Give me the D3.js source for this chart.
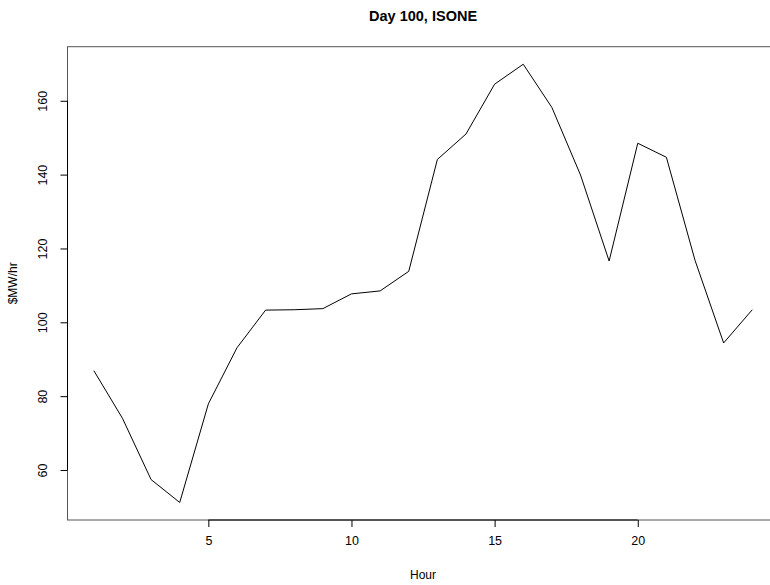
<!DOCTYPE html>
<html>
<head>
<meta charset="utf-8">
<script src="https://cdn.jsdelivr.net/npm/d3@7"></script>
<style>
  html, body { margin: 0; padding: 0; background: #fff; }
  svg { display: block; font-family: "Liberation Sans", Arial, Helvetica, sans-serif; }
</style>
</head>
<body>
<svg id="chart" width="770" height="585"></svg>
<script>
// Hourly price, ISONE, day 100
const hours = [1, 2, 3, 4, 5, 6, 7, 8, 9, 10, 11, 12, 13, 14, 15, 16, 17, 18, 19, 20, 21, 22, 23, 24];
const prices = [86.9, 74.0, 57.4, 51.2, 77.9, 93.1, 103.3, 103.4, 103.7, 107.7, 108.5, 113.8,
                144.1, 151.0, 164.5, 169.9, 158.2, 139.9, 116.6, 148.5, 144.7, 116.8, 94.4, 103.4];
const xTicks = [5, 10, 15, 20];
const yTicks = [60, 80, 100, 120, 140, 160];
const titleText = "Day 100, ISONE";
const xLabel = "Hour";
const yLabel = "$MW/hr";

const svg = d3.select("#chart");
const plotLeft = 67.5, plotRight = 778.6, plotTop = 46.7, plotBottom = 520;

// R-style 4% padding of the data range
function padded(ext) {
  const d = (ext[1] - ext[0]) * 0.04;
  return [ext[0] - d, ext[1] + d];
}
const x = d3.scaleLinear().domain(padded(d3.extent(hours))).range([plotLeft, plotRight]);
const y = d3.scaleLinear().domain(padded(d3.extent(prices))).range([plotBottom, plotTop]);

// plot frame
svg.append("rect")
  .attr("x", plotLeft).attr("y", plotTop)
  .attr("width", plotRight - plotLeft).attr("height", plotBottom - plotTop)
  .attr("fill", "none").attr("stroke", "#555").attr("stroke-width", 1);

// x axis
const xAxis = svg.append("g")
  .attr("transform", `translate(0,${plotBottom})`)
  .call(d3.axisBottom(x).tickValues(xTicks).tickFormat(d3.format("d")).tickSize(7).tickPadding(9).tickSizeOuter(0));
xAxis.select(".domain").remove();
xAxis.append("line")
  .attr("x1", x(xTicks[0])).attr("x2", x(xTicks[xTicks.length - 1]))
  .attr("stroke", "#000");
xAxis.selectAll("text").attr("font-size", 12.5).attr("fill", "#000")
  .attr("font-family", "Liberation Sans, Arial, sans-serif");

// y axis
const yAxis = svg.append("g")
  .attr("transform", `translate(${plotLeft},0)`)
  .call(d3.axisLeft(y).tickValues(yTicks).tickFormat(d3.format("d")).tickSize(7).tickSizeOuter(0));
yAxis.select(".domain").remove();
yAxis.append("line")
  .attr("y1", y(yTicks[0])).attr("y2", y(yTicks[yTicks.length - 1]))
  .attr("stroke", "#000");
yAxis.selectAll(".tick text")
  .attr("x", null).attr("dy", null)
  .attr("text-anchor", "middle")
  .attr("transform", "translate(-21,0) rotate(-90)")
  .attr("font-size", 12.5).attr("fill", "#000")
  .attr("font-family", "Liberation Sans, Arial, sans-serif");

// price line
svg.append("path")
  .datum(hours.map((h, i) => [h, prices[i]]))
  .attr("fill", "none")
  .attr("stroke", "#000")
  .attr("stroke-width", 1)
  .attr("d", d3.line().x(d => x(d[0])).y(d => y(d[1])));

// title and axis labels
svg.append("text")
  .attr("x", (plotLeft + plotRight) / 2).attr("y", 21)
  .attr("text-anchor", "middle")
  .attr("font-size", 14.5).attr("font-weight", "bold")
  .text(titleText);

svg.append("text")
  .attr("x", (plotLeft + plotRight) / 2).attr("y", 579)
  .attr("text-anchor", "middle")
  .attr("font-size", 12)
  .text(xLabel);

svg.append("text")
  .attr("transform", `translate(17,${(plotTop + plotBottom) / 2}) rotate(-90)`)
  .attr("text-anchor", "middle")
  .attr("font-size", 12)
  .text(yLabel);
</script>
</body>
</html>
